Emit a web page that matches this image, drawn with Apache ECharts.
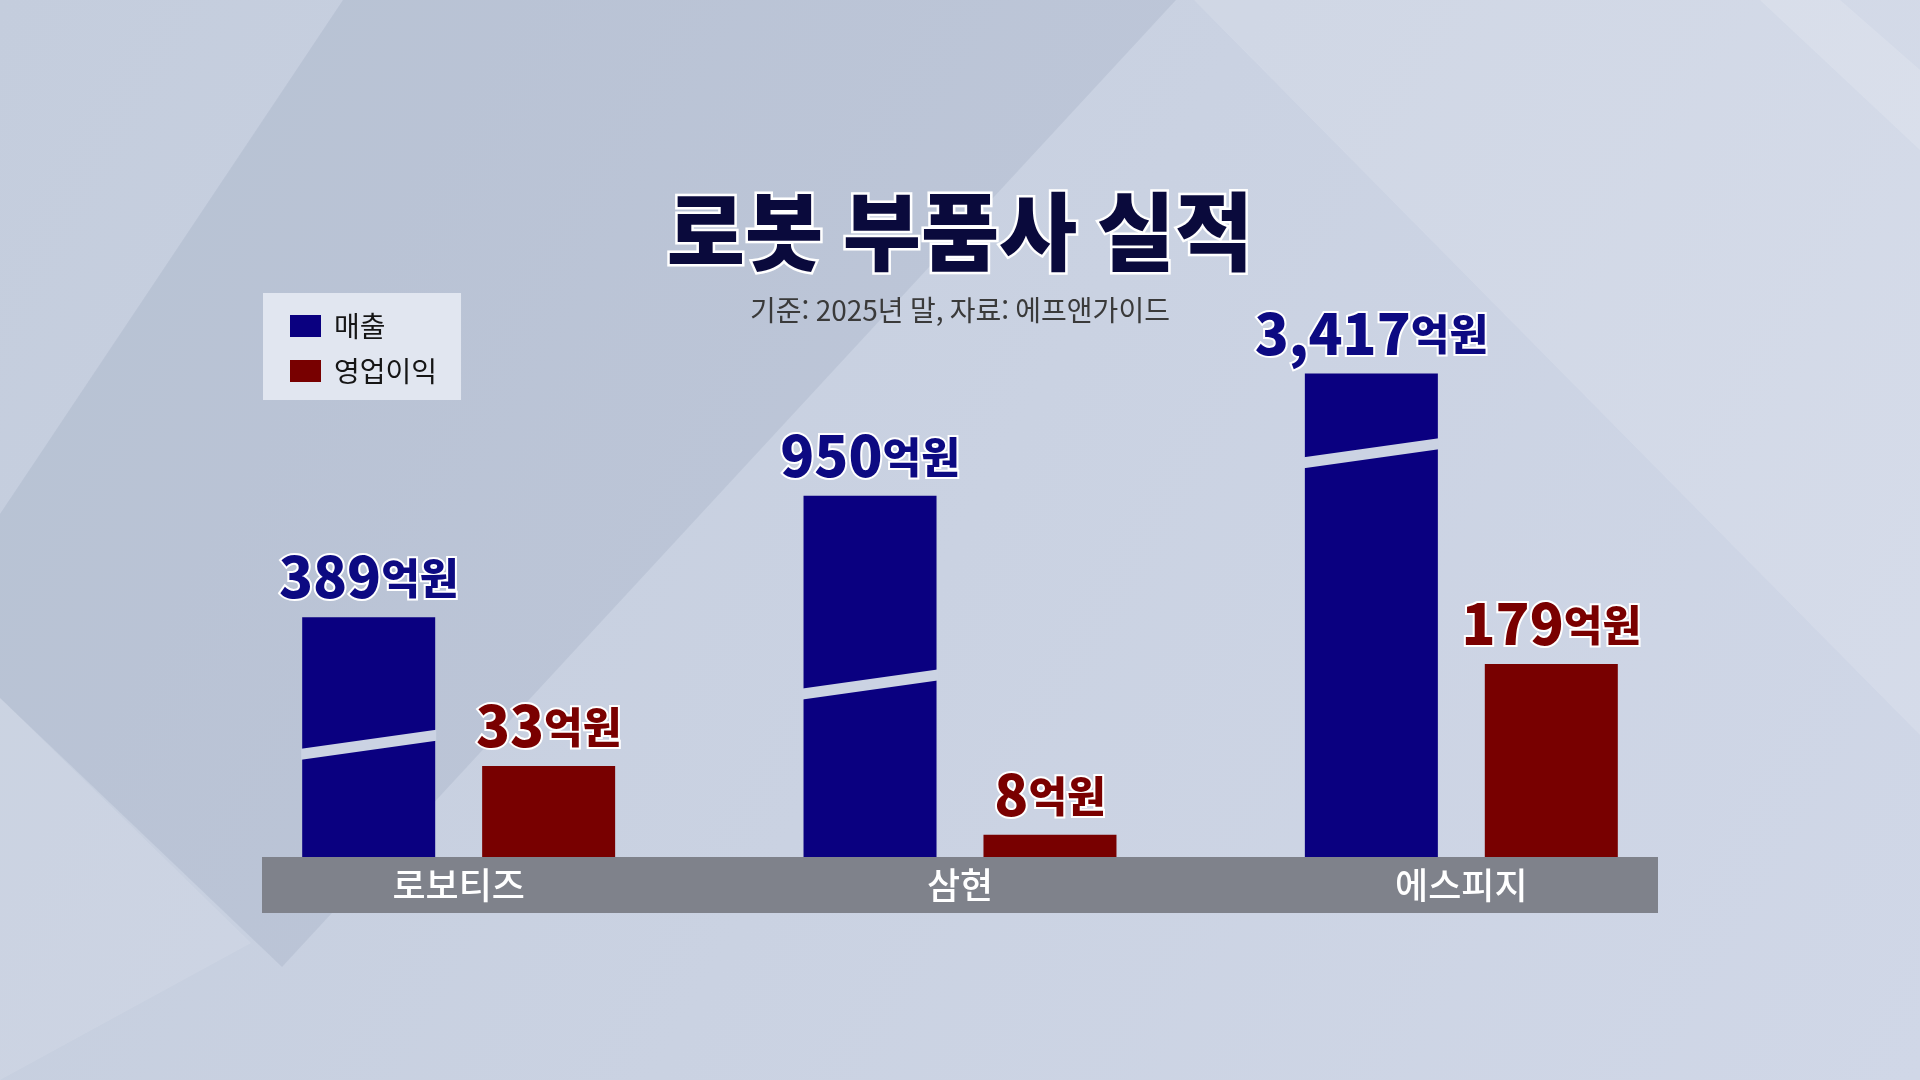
<!DOCTYPE html>
<html lang="ko">
<head>
<meta charset="utf-8">
<title>로봇 부품사 실적</title>
<script src="https://cdn.jsdelivr.net/npm/echarts@6/dist/echarts.min.js"></script>
<style>
    html, body { margin: 0; padding: 0; overflow: hidden; }
    #chart-container { width: 1920px; height: 1080px; }
</style>
</head>
<body>
<div id="chart-container"></div>
<script>
const companies = ['로보티즈', '삼현', '에스피지'];
const seriesNames = ['매출', '영업이익'];

// values printed on the labels (억원)
const salesValues = [389, 950, 3417];
const profitValues = [33, 8, 179];

// drawn bar heights, % of the tallest bar (the graphic is not to scale)
const salesBarHeights = [49.6, 74.7, 100];
const profitBarHeights = [18.8, 4.6, 39.9];

// height where the "cut" stripe crosses each sales bar, same units
const salesBreakAt = [23.2, 35.7, 83.5];

const BLUE = '#0a0080';
const RED = '#780000';
const FONT = '"Noto Sans CJK KR", "Noto Sans", sans-serif';
const BAR_W = 133;
const BAR_GAP = 0.353;

const chartDom = document.getElementById('chart-container');
const myChart = echarts.init(chartDom);

function valueLabel(values, color) {
    return {
        show: true,
        position: 'top',
        distance: 9,
        formatter: function (params) {
            return '{num|' + values[params.dataIndex].toLocaleString('en-US') + '}{unit|억원}';
        },
        rich: {
            num: {
                fontFamily: FONT, fontSize: 56, fontWeight: 900, color: color,
                textBorderColor: '#fff', textBorderWidth: 4, lineHeight: 62
            },
            unit: {
                fontFamily: FONT, fontSize: 42, fontWeight: 900, color: color,
                textBorderColor: '#fff', textBorderWidth: 4, lineHeight: 46,
                verticalAlign: 'bottom', padding: [0, 0, 9, 0]
            }
        }
    };
}

// light slanted stripe that "cuts" a sales bar
function renderBreak(params, api) {
    const pt = api.coord([api.value(0), api.value(1)]);
    const gap = BAR_W * BAR_GAP;
    const cx = pt[0] - (BAR_W + gap) / 2;
    const x0 = cx - BAR_W / 2 - 1;
    const x1 = cx + BAR_W / 2 + 1;
    const rise = 19, t = 11;
    const y = pt[1];
    return {
        type: 'polygon',
        shape: {
            points: [
                [x0, y + rise / 2 - t / 2],
                [x1, y - rise / 2 - t / 2],
                [x1, y - rise / 2 + t / 2],
                [x0, y + rise / 2 + t / 2]
            ]
        },
        style: { fill: '#cbd3e3' }
    };
}

const option = {
    backgroundColor: {
        type: 'linear', x: 0, y: 0, x2: 1, y2: 1,
        colorStops: [
            { offset: 0, color: '#c4cddd' },
            { offset: 1, color: '#d0d7e7' }
        ]
    },
    title: [
        {
            text: '로봇 부품사 실적',
            left: 'center',
            top: 184,
            textStyle: {
                fontFamily: FONT, fontSize: 85, fontWeight: 900, color: '#0a0a3c',
                textBorderColor: '#fff', textBorderWidth: 5
            }
        },
        {
            text: '기준: 2025년 말, 자료: 에프앤가이드',
            left: 'center',
            top: 291,
            textStyle: {
                fontFamily: FONT, fontSize: 28, fontWeight: 400, color: '#3a3a3a'
            }
        }
    ],
    legend: {
        data: seriesNames,
        orient: 'vertical',
        left: 263,
        top: 293,
        padding: [19, 24, 15, 27],
        itemWidth: 31,
        itemHeight: 22,
        itemGap: 17,
        icon: 'rect',
        backgroundColor: 'rgba(232,236,245,0.85)',
        textStyle: { fontFamily: FONT, fontSize: 28, color: '#151515', padding: [0, 0, 0, 8] }
    },
    grid: { left: 208, right: 208, top: 373.5, bottom: 223 },
    xAxis: {
        type: 'category',
        data: companies,
        z: 10,
        axisLine: { show: false },
        axisTick: { show: false },
        axisLabel: { color: '#fff', fontFamily: FONT, fontSize: 36, fontWeight: 500, margin: 10 }
    },
    yAxis: {
        type: 'value',
        min: 0,
        max: 100,
        show: false,
        splitLine: { show: false }
    },
    series: [
        {
            name: seriesNames[0],
            type: 'bar',
            barWidth: BAR_W,
            barGap: (BAR_GAP * 100) + '%',
            data: salesBarHeights,
            itemStyle: { color: BLUE },
            label: valueLabel(salesValues, '#0d0a82')
        },
        {
            name: seriesNames[1],
            type: 'bar',
            barWidth: BAR_W,
            data: profitBarHeights,
            itemStyle: { color: RED },
            label: valueLabel(profitValues, '#7a0000')
        },
        {
            type: 'custom',
            z: 3,
            silent: true,
            renderItem: renderBreak,
            data: salesBreakAt.map((v, i) => [i, v])
        }
    ],
    graphic: [
        { type: 'polygon', z: -100, silent: true,
          shape: { points: [[343, 0], [1176, 0], [282, 967], [0, 698], [0, 514]] },
          style: { fill: 'rgba(80,98,130,0.10)' } },
        { type: 'polygon', z: -100, silent: true,
          shape: { points: [[1194, 0], [1920, 0], [1920, 735]] },
          style: { fill: 'rgba(255,255,255,0.13)' } },
        { type: 'polygon', z: -100, silent: true,
          shape: { points: [[0, 698], [251, 943], [0, 1080]] },
          style: { fill: 'rgba(255,255,255,0.10)' } },
        { type: 'polygon', z: -100, silent: true,
          shape: { points: [[1760, 0], [1840, 0], [1920, 70], [1920, 150]] },
          style: { fill: 'rgba(255,255,255,0.15)' } },
        // grey band under the category axis
        { type: 'rect', z: 1, silent: true,
          shape: { x: 262, y: 857, width: 1396, height: 56 },
          style: { fill: '#7f828b' } }
    ],
    animation: false
};

myChart.setOption(option);
window.addEventListener('resize', () => myChart.resize());
</script>
</body>
</html>
